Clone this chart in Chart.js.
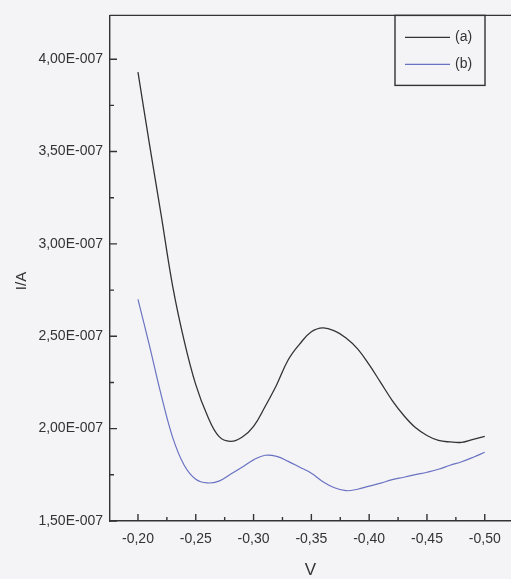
<!DOCTYPE html>
<html>
<head>
<meta charset="utf-8">
<script src="https://cdn.jsdelivr.net/npm/chart.js@4/dist/chart.umd.min.js"></script>
<style>
  html, body { margin: 0; padding: 0; background: #f4f4f6; overflow: hidden; }
  #wrap { position: relative; width: 511px; height: 579px; }
</style>
</head>
<body>
<div id="wrap"><canvas id="c"></canvas></div>
<script>
// Potential (V) sampled every 10 mV
const potentials = [
  -0.20, -0.21, -0.22, -0.23, -0.24, -0.25, -0.26, -0.27, -0.28, -0.29,
  -0.30, -0.31, -0.32, -0.33, -0.34, -0.35, -0.36, -0.37, -0.38, -0.39,
  -0.40, -0.41, -0.42, -0.43, -0.44, -0.45, -0.46, -0.47, -0.48, -0.49, -0.50
];

// Current (A), curve (a)
const currentA = [
  3.930e-7, 3.537e-7, 3.159e-7, 2.772e-7, 2.475e-7, 2.238e-7, 2.071e-7, 1.958e-7, 1.931e-7, 1.953e-7,
  2.012e-7, 2.120e-7, 2.238e-7, 2.373e-7, 2.459e-7, 2.524e-7, 2.545e-7, 2.529e-7, 2.491e-7, 2.432e-7,
  2.346e-7, 2.249e-7, 2.152e-7, 2.071e-7, 2.006e-7, 1.963e-7, 1.936e-7, 1.928e-7, 1.926e-7, 1.942e-7, 1.958e-7
];

// Current (A), curve (b)
const currentB = [
  2.700e-7, 2.448e-7, 2.184e-7, 1.953e-7, 1.802e-7, 1.726e-7, 1.706e-7, 1.716e-7, 1.753e-7, 1.791e-7,
  1.831e-7, 1.856e-7, 1.850e-7, 1.823e-7, 1.791e-7, 1.759e-7, 1.713e-7, 1.680e-7, 1.664e-7, 1.672e-7,
  1.689e-7, 1.705e-7, 1.724e-7, 1.737e-7, 1.751e-7, 1.764e-7, 1.780e-7, 1.802e-7, 1.821e-7, 1.845e-7, 1.872e-7
];

const seriesLabels = ['(a)', '(b)'];
const seriesColors = ['#333333', '#6a72c2'];

// Axis ticks
const xTicks = [-0.20, -0.25, -0.30, -0.35, -0.40, -0.45, -0.50];
const xMinorTicks = [-0.225, -0.275, -0.325, -0.375, -0.425, -0.475];
const yTicks = [1.5e-7, 2.0e-7, 2.5e-7, 3.0e-7, 3.5e-7, 4.0e-7];
const yMinorTicks = [1.75e-7, 2.25e-7, 2.75e-7, 3.25e-7, 3.75e-7];

const yTitle = 'I/A';
const xTitle = 'V';

const X_MIN = -0.5227, X_MAX = -0.1758;
const Y_MIN = 1.5e-7, Y_MAX = 4.237e-7;

const AXIS_COLOR = '#333333';
const TEXT_COLOR = '#333333';
const NARROW = '"Liberation Sans Narrow", "Arial Narrow", "Liberation Sans", sans-serif';

const fmtX = v => v.toFixed(2).replace('.', ',');
const fmtY = v => (v * 1e7).toFixed(2).replace('.', ',') + 'E-007';

// Inward major/minor ticks, the top frame line and the rotated y title
const frameTicks = {
  id: 'frameTicks',
  afterDatasetsDraw(chart) {
    const { ctx, chartArea: a, scales: { x, y } } = chart;
    ctx.save();
    ctx.strokeStyle = AXIS_COLOR;
    ctx.lineWidth = 1.4;
    ctx.beginPath();
    ctx.moveTo(a.left, a.top);
    ctx.lineTo(a.right, a.top);
    const xtick = (list, len) => {
      list.forEach(v => {
        const px = x.getPixelForValue(v);
        ctx.moveTo(px, a.bottom);
        ctx.lineTo(px, a.bottom - len);
      });
    };
    const ytick = (list, len) => {
      list.forEach(v => {
        const py = y.getPixelForValue(v);
        ctx.moveTo(a.left, py);
        ctx.lineTo(a.left + len, py);
      });
    };
    xtick(xTicks, 7); xtick(xMinorTicks, 4);
    ytick(yTicks, 7); ytick(yMinorTicks, 4);
    ctx.stroke();

    ctx.translate(22, 281);
    ctx.rotate(-Math.PI / 2);
    ctx.font = '15px "Liberation Sans", Arial, sans-serif';
    ctx.fillStyle = TEXT_COLOR;
    ctx.textAlign = 'center';
    ctx.textBaseline = 'middle';
    ctx.fillText(yTitle, 0, 0);
    ctx.restore();
  }
};

// Boxed legend in the upper right corner of the plot
const boxLegend = {
  id: 'boxLegend',
  afterDraw(chart) {
    const { ctx, chartArea: a } = chart;
    const right = 485, left = 395, top = a.top, bottom = a.top + 70;
    ctx.save();
    ctx.strokeStyle = AXIS_COLOR;
    ctx.lineWidth = 1.4;
    ctx.strokeRect(left, top, right - left, bottom - top);
    ctx.font = '14px "Liberation Sans", Arial, sans-serif';
    ctx.textBaseline = 'middle';
    ctx.fillStyle = TEXT_COLOR;
    chart.data.datasets.forEach((ds, i) => {
      const yy = top + 22 + i * 27;
      ctx.strokeStyle = ds.borderColor;
      ctx.lineWidth = 1.2;
      ctx.beginPath();
      ctx.moveTo(left + 10, yy);
      ctx.lineTo(left + 55, yy);
      ctx.stroke();
      ctx.fillText(ds.label, left + 60, yy);
    });
    ctx.restore();
  }
};

const mkData = arr => potentials.map((v, i) => ({ x: v, y: arr[i] }));

new Chart(document.getElementById('c'), {
  type: 'line',
  data: {
    datasets: [
      { label: seriesLabels[0], data: mkData(currentA), borderColor: seriesColors[0], borderWidth: 1.3 },
      { label: seriesLabels[1], data: mkData(currentB), borderColor: seriesColors[1], borderWidth: 1.2 }
    ]
  },
  options: {
    responsive: true,
    maintainAspectRatio: false,
    animation: false,
    layout: { padding: { top: 13, right: 0, left: 0, bottom: 0 } },
    elements: {
      point: { radius: 0 },
      line: { tension: 0.4, fill: false }
    },
    plugins: { legend: { display: false }, tooltip: { enabled: false } },
    scales: {
      x: {
        type: 'linear',
        reverse: true,
        min: X_MIN,
        max: X_MAX,
        afterBuildTicks: s => { s.ticks = xTicks.map(v => ({ value: v })); },
        afterFit: s => { s.height = 58; },
        grid: { display: false, drawTicks: false },
        border: { display: true, color: AXIS_COLOR, width: 1.4 },
        ticks: {
          autoSkip: false, maxRotation: 0, padding: 10,
          color: TEXT_COLOR,
          font: { family: NARROW, size: 14 },
          callback: v => fmtX(v)
        },
        title: {
          display: true, text: xTitle, color: TEXT_COLOR,
          font: { family: '"Liberation Sans", Arial, sans-serif', size: 17 },
          padding: { top: 0, bottom: -2 }
        }
      },
      y: {
        type: 'linear',
        min: Y_MIN,
        max: Y_MAX,
        afterBuildTicks: s => { s.ticks = yTicks.map(v => ({ value: v })); },
        afterFit: s => { s.width = 110; },
        grid: { display: false, drawTicks: false },
        border: { display: true, color: AXIS_COLOR, width: 1.4 },
        ticks: {
          autoSkip: false, padding: 7,
          color: TEXT_COLOR,
          font: { family: NARROW, size: 14 },
          callback: v => fmtY(v)
        },
        title: { display: false }
      }
    }
  },
  plugins: [frameTicks, boxLegend]
});
</script>
</body>
</html>
